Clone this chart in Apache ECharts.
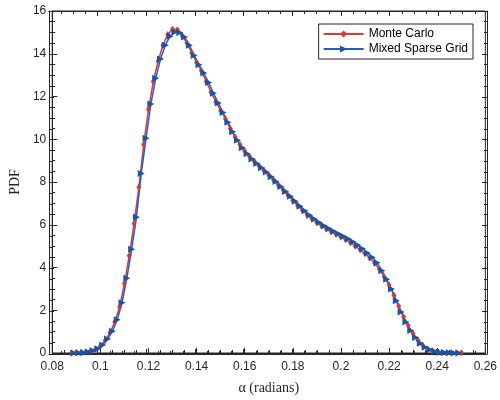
<!DOCTYPE html>
<html>
<head>
<meta charset="utf-8">
<script src="https://cdn.jsdelivr.net/npm/echarts@6/dist/echarts.min.js"></script>
<style>html,body{margin:0;padding:0;background:#fff}#c{width:500px;height:400px}</style>
</head>
<body>
<div id="c"></div>
<script>
var mcX = [0.088,0.090,0.092,0.094,0.096,0.098,0.100,0.102,0.104,0.106,0.108,0.110,0.112,0.114,0.116,0.118,0.120,0.122,0.124,0.126,0.128,0.130,0.132,0.134,0.136,0.138,0.140,0.142,0.144,0.146,0.148,0.150,0.152,0.154,0.156,0.158,0.160,0.162,0.164,0.166,0.168,0.170,0.172,0.174,0.176,0.178,0.180,0.182,0.184,0.186,0.188,0.190,0.192,0.194,0.196,0.198,0.200,0.202,0.204,0.206,0.208,0.210,0.212,0.214,0.216,0.218,0.220,0.222,0.224,0.226,0.228,0.230,0.232,0.234,0.236,0.238,0.240,0.242,0.244,0.246,0.248,0.250];
var mcY = [0.00,0.01,0.02,0.05,0.09,0.18,0.33,0.58,0.95,1.45,2.15,3.25,4.55,6.05,7.75,9.75,11.40,12.70,13.65,14.40,14.90,15.15,15.12,14.85,14.50,14.05,13.60,13.20,12.70,12.20,11.75,11.35,10.95,10.50,10.10,9.75,9.45,9.20,8.97,8.75,8.54,8.33,8.10,7.86,7.62,7.38,7.14,6.90,6.68,6.46,6.27,6.10,5.94,5.80,5.67,5.55,5.43,5.30,5.16,5.00,4.83,4.64,4.45,4.20,3.92,3.55,3.18,2.70,2.20,1.70,1.28,0.90,0.60,0.36,0.20,0.10,0.05,0.02,0.01,0.00,0.00,0.00];
var sgX = [0.089,0.091,0.093,0.095,0.097,0.099,0.101,0.103,0.105,0.107,0.109,0.111,0.113,0.115,0.117,0.119,0.121,0.123,0.125,0.127,0.129,0.131,0.133,0.135,0.137,0.139,0.141,0.143,0.145,0.147,0.149,0.151,0.153,0.155,0.157,0.159,0.161,0.163,0.165,0.167,0.169,0.171,0.173,0.175,0.177,0.179,0.181,0.183,0.185,0.187,0.189,0.191,0.193,0.195,0.197,0.199,0.201,0.203,0.205,0.207,0.209,0.211,0.213,0.215,0.217,0.219,0.221,0.223,0.225,0.227,0.229,0.231,0.233,0.235,0.237,0.239,0.241,0.243,0.245,0.247,0.249];
var sgY = [0.00,0.01,0.02,0.05,0.10,0.20,0.38,0.65,1.02,1.55,2.35,3.50,4.85,6.35,8.40,10.05,11.65,12.85,13.75,14.40,14.82,15.02,15.00,14.78,14.40,13.92,13.48,13.10,12.65,12.15,11.70,11.25,10.80,10.35,9.95,9.60,9.32,9.08,8.87,8.67,8.47,8.25,8.02,7.79,7.56,7.33,7.10,6.87,6.65,6.45,6.27,6.10,5.95,5.82,5.70,5.58,5.46,5.34,5.20,5.05,4.88,4.68,4.48,4.22,3.85,3.45,3.00,2.45,1.92,1.45,1.05,0.72,0.46,0.27,0.15,0.08,0.04,0.02,0.01,0.00,0.00];
var seriesNames = ['Monte Carlo', 'Mixed Sparse Grid'];
var xTitle = 'α (radians)';
var yTitle = 'PDF';

function zip(xs, ys){ return xs.map(function(x,i){ return [x, ys[i]]; }); }

var INK = '#262626';
function tick(){ return {show:true, inside:true, length:5, lineStyle:{color:INK, width:1}}; }
function minor(){ return {show:true, splitNumber:4, length:3, lineStyle:{color:INK, width:1}}; }
function line(){ return {show:true, onZero:false, lineStyle:{color:INK}}; }
function tickAxisX(pos){
  return {type:'value', gridIndex:1, min:0.08, max:0.26, interval:0.02, position:pos,
          axisLine:line(), axisTick:tick(), minorTick:minor(), splitLine:{show:false}, axisLabel:{show:false}};
}
function tickAxisY(pos){
  return {type:'value', gridIndex:1, min:0, max:16, interval:2, position:pos,
          axisLine:line(), axisTick:tick(), minorTick:minor(), splitLine:{show:false}, axisLabel:{show:false}};
}

var option = {
  animation:false,
  grid:[
    {left:49, right:13, top:11, bottom:46, show:true, borderColor:INK},
    {left:49, right:13, top:11, bottom:46}
  ],
  legend:{
    top:24, right:27, orient:'vertical', itemWidth:40, itemHeight:9, itemGap:3,
    padding:[4,5,4,4], borderColor:INK, borderWidth:1, borderRadius:0,
    backgroundColor:'#fff',
    textStyle:{color:'#000', fontFamily:'Liberation Sans, Arial, sans-serif', fontSize:12},
    data:seriesNames
  },
  xAxis:[{type:'value', gridIndex:0, min:0.08, max:0.26, interval:0.02, position:'bottom',
          axisLine:line(), axisTick:tick(), minorTick:minor(), splitLine:{show:false},
          axisLabel:{color:INK, fontFamily:'Liberation Sans, Arial, sans-serif', fontSize:12, margin:8,
                     formatter:function(v){return String(+v.toFixed(2));}},
          name:xTitle, nameLocation:'middle', nameGap:28,
          nameTextStyle:{color:INK, fontFamily:'Liberation Serif, Times New Roman, serif', fontSize:14}},
         tickAxisX('bottom'), tickAxisX('top')],
  yAxis:[{type:'value', gridIndex:0, min:0, max:16, interval:2, position:'left',
          axisLine:line(), axisTick:tick(), minorTick:minor(), splitLine:{show:false},
          axisLabel:{color:INK, fontFamily:'Liberation Sans, Arial, sans-serif', fontSize:12, margin:6},
          name:yTitle, nameLocation:'middle', nameGap:30,
          nameTextStyle:{color:INK, fontFamily:'Liberation Serif, Times New Roman, serif', fontSize:14}},
         tickAxisY('left'), tickAxisY('right')],
  series:[{
    name:seriesNames[0], type:'line', data:zip(mcX, mcY), xAxisIndex:0, yAxisIndex:0,
    symbol:'diamond', symbolSize:[5,7], showAllSymbol:true,
    lineStyle:{color:'#d83a3a', width:1.5}, itemStyle:{color:'#d83a3a', borderWidth:0}
  },{
    name:seriesNames[1], type:'line', data:zip(sgX, sgY), xAxisIndex:0, yAxisIndex:0,
    symbol:'triangle', symbolSize:7, symbolRotate:-90, showAllSymbol:true,
    lineStyle:{color:'#1f5fc0', width:1.5}, itemStyle:{color:'#1a55a0', borderWidth:0}
  }]
};
echarts.init(document.getElementById('c')).setOption(option);
</script>
</body>
</html>
